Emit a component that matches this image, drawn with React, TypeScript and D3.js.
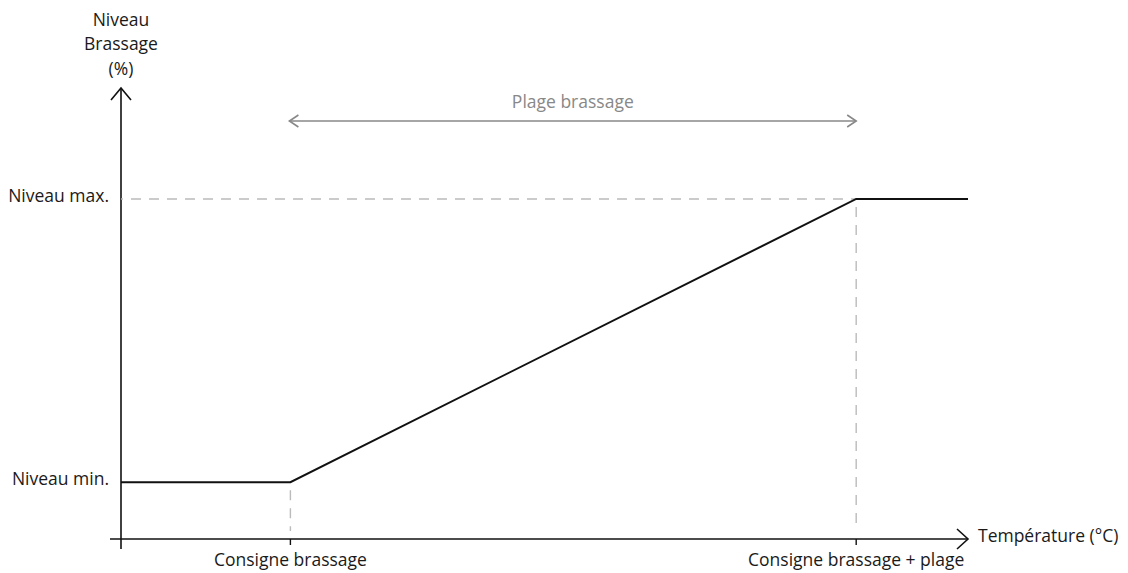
import React, { useRef, useEffect } from "react";
import * as d3 from "d3";

// curve breakpoints (temperature in % of axis, level in % of axis)
const tempPoints = [0, 20, 86.8, 100];
const levelPoints = [12.6, 12.6, 75.4, 75.4];
const levelLabels = ["Niveau min.", "Niveau max."];
const levelValues = [12.6, 75.4];
const tempLabels = ["Consigne brassage", "Consigne brassage + plage"];
const tempValues = [20, 86.8];
const yTitle = ["Niveau", "Brassage", "(%)"];

const W = 1128;
const H = 573;
const FONT = "'Open Sans', sans-serif";
const FS = 17.5;

const App = () => {
  const ref = useRef(null);

  useEffect(() => {
    const svg = d3.select(ref.current);
    svg.selectAll("*").remove();

    const x = d3.scaleLinear().domain([0, 100]).range([121, 968]);
    const y = d3.scaleLinear().domain([0, 100]).range([539, 88]);

    // axes
    svg.append("line")
      .attr("x1", x(0)).attr("x2", x(0))
      .attr("y1", y(0) + 10).attr("y2", y(100))
      .attr("stroke", "#111").attr("stroke-width", 1.6);
    svg.append("path")
      .attr("d", `M${x(0) - 10},${y(100) + 12} L${x(0)},${y(100)} L${x(0) + 10},${y(100) + 12}`)
      .attr("fill", "none").attr("stroke", "#111").attr("stroke-width", 1.6);

    svg.append("line")
      .attr("x1", x(0) - 11).attr("x2", x(100))
      .attr("y1", y(0)).attr("y2", y(0))
      .attr("stroke", "#111").attr("stroke-width", 1.6);
    svg.append("path")
      .attr("d", `M${x(100) - 11},${y(0) - 10} L${x(100)},${y(0)} L${x(100) - 11},${y(0) + 10}`)
      .attr("fill", "none").attr("stroke", "#111").attr("stroke-width", 1.6);

    // ticks on x axis
    svg.selectAll(".xt").data(tempValues).enter().append("line")
      .attr("x1", (d) => x(d)).attr("x2", (d) => x(d))
      .attr("y1", y(0)).attr("y2", y(0) + 6)
      .attr("stroke", "#111").attr("stroke-width", 1.4);

    // dashed guides
    svg.append("line")
      .attr("x1", x(0)).attr("x2", x(tempValues[1]))
      .attr("y1", y(levelValues[1])).attr("y2", y(levelValues[1]))
      .attr("stroke", "#bbb").attr("stroke-width", 1.4)
      .attr("stroke-dasharray", "10,8").attr("stroke-dashoffset", -10);
    svg.selectAll(".vg").data([[tempValues[0], levelValues[0]], [tempValues[1], levelValues[1]]])
      .enter().append("line")
      .attr("x1", (d) => x(d[0])).attr("x2", (d) => x(d[0]))
      .attr("y1", (d) => y(d[1]) + 8).attr("y2", y(0) - 8)
      .attr("stroke", "#bbb").attr("stroke-width", 1.4)
      .attr("stroke-dasharray", "10,8");

    // curve
    const line = d3.line<number>()
      .x((d, i) => x(tempPoints[i]))
      .y((d) => y(d));
    svg.append("path")
      .datum(levelPoints)
      .attr("d", line)
      .attr("fill", "none")
      .attr("stroke", "#111")
      .attr("stroke-width", 2);

    // plage arrow
    const ay = 121;
    const ax1 = x(tempValues[0]) - 1;
    const ax2 = x(tempValues[1]);
    const gray = "#888";
    svg.append("line")
      .attr("x1", ax1).attr("x2", ax2).attr("y1", ay).attr("y2", ay)
      .attr("stroke", gray).attr("stroke-width", 1.6);
    svg.append("path")
      .attr("d", `M${ax1 + 9},${ay - 6} L${ax1},${ay} L${ax1 + 9},${ay + 6}`)
      .attr("fill", "none").attr("stroke", gray).attr("stroke-width", 1.6);
    svg.append("path")
      .attr("d", `M${ax2 - 9},${ay - 6} L${ax2},${ay} L${ax2 - 9},${ay + 6}`)
      .attr("fill", "none").attr("stroke", gray).attr("stroke-width", 1.6);
    svg.append("text")
      .attr("x", (ax1 + ax2) / 2).attr("y", 103)
      .attr("text-anchor", "middle").attr("dominant-baseline", "middle")
      .attr("font-family", FONT).attr("font-size", FS).attr("fill", gray)
      .text("Plage brassage");

    // labels
    svg.selectAll(".yl").data(levelLabels).enter().append("text")
      .attr("x", 109)
      .attr("y", (d, i) => y(levelValues[i]) - 2)
      .attr("text-anchor", "end").attr("dominant-baseline", "middle")
      .attr("font-family", FONT).attr("font-size", FS).attr("fill", "#1a1a1a")
      .text((d) => d);

    svg.selectAll(".xl").data(tempLabels).enter().append("text")
      .attr("x", (d, i) => x(tempValues[i]))
      .attr("y", 561)
      .attr("text-anchor", "middle").attr("dominant-baseline", "middle")
      .attr("font-family", FONT).attr("font-size", FS).attr("fill", "#1a1a1a")
      .text((d) => d);

    svg.append("text")
      .attr("x", 978).attr("y", 537)
      .attr("dominant-baseline", "middle")
      .attr("font-family", FONT).attr("font-size", FS).attr("fill", "#1a1a1a")
      .text("Température (°C)");

    svg.selectAll(".yt").data(yTitle).enter().append("text")
      .attr("x", x(0))
      .attr("y", (d, i) => 21 + i * 24.5)
      .attr("text-anchor", "middle").attr("dominant-baseline", "middle")
      .attr("font-family", FONT).attr("font-size", FS).attr("fill", "#1a1a1a")
      .text((d) => d);
  }, []);

  return (
    <svg ref={ref} width={W} height={H}
      style={{ position: "absolute", left: 0, top: 0, background: "#fff" }} />
  );
};

export default App;
